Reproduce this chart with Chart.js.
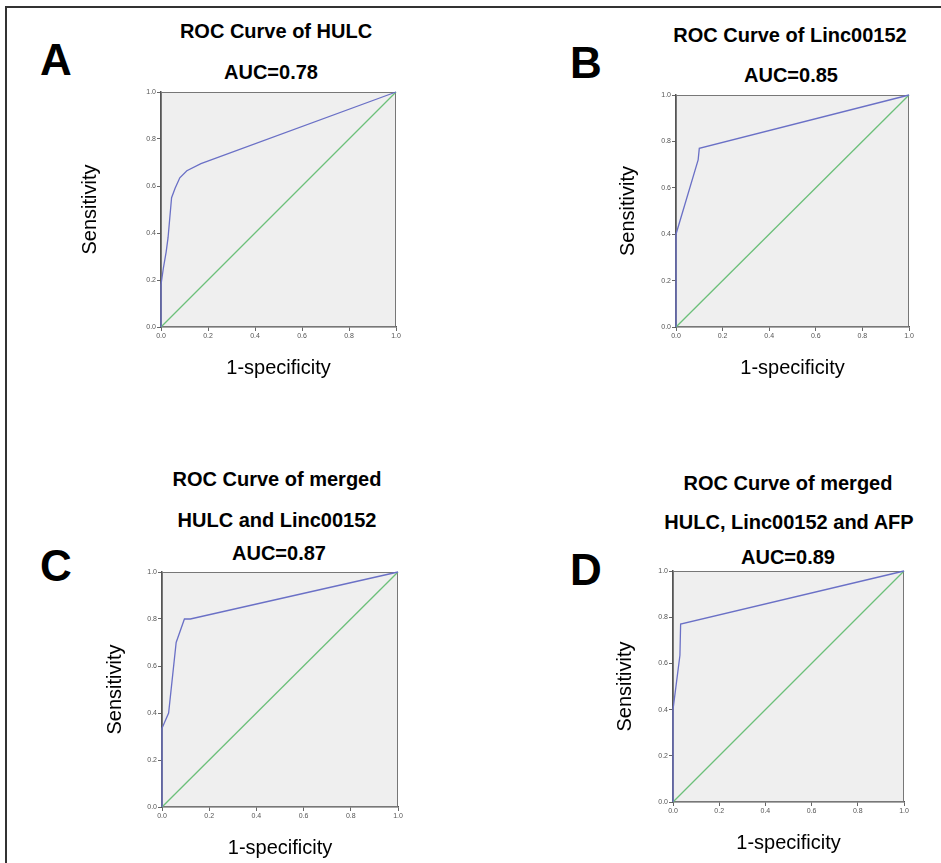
<!DOCTYPE html>
<html><head><meta charset="utf-8">
<script src="https://cdn.jsdelivr.net/npm/chart.js@4.4.1/dist/chart.umd.min.js"></script>
<style>
html,body{margin:0;padding:0;background:#fff;width:941px;height:863px;overflow:hidden;position:relative;font-family:"Liberation Sans",Arial,sans-serif;}
#frame{position:absolute;left:5px;top:6px;width:1000px;height:1000px;border-left:2px solid #333;border-top:2px solid #333;}
.t{position:absolute;transform:translate(-50%,-50%);white-space:nowrap;font-weight:bold;font-size:20px;line-height:1;color:#000;}
.L{position:absolute;transform:translate(-50%,-50%);font-weight:bold;font-size:44px;line-height:1;color:#000;}
canvas{position:absolute;}
</style></head><body>
<div id="frame"></div>
<script>
// ---- data ----
const tickLabels = ['0.0','0.2','0.4','0.6','0.8','1.0'];
const panelLetters = ['A','B','C','D'];
const titleA = ['ROC Curve of HULC','AUC=0.78'];
const titleB = ['ROC Curve of Linc00152','AUC=0.85'];
const titleC = ['ROC Curve of merged','HULC and Linc00152','AUC=0.87'];
const titleD = ['ROC Curve of merged','HULC, Linc00152 and AFP','AUC=0.89'];
const xAxisTitle = '1-specificity';
const yAxisTitle = 'Sensitivity';
const refX = [0, 1];
const refY = [0, 1];
const hulcX = [0, 0, 0.01, 0.022, 0.03, 0.045, 0.06, 0.08, 0.11, 0.17, 1];
const hulcY = [0, 0.18, 0.25, 0.32, 0.38, 0.55, 0.59, 0.635, 0.665, 0.695, 1];
const lincX = [0, 0, 0.095, 0.1, 1];
const lincY = [0, 0.40, 0.72, 0.77, 1];
const mergedX = [0, 0, 0.028, 0.06, 0.095, 0.12, 1];
const mergedY = [0, 0.335, 0.40, 0.70, 0.80, 0.80, 1];
const merged3X = [0, 0, 0.03, 0.033, 1];
const merged3Y = [0, 0.40, 0.635, 0.77, 1];

// ---- layout (pixels) ----
const panels = [
  {letter:panelLetters[0], lp:[56,60], title:titleA, tx:[276,271], ty:[31,72], x:hulcX, y:hulcY,
   plot:{l:161,r:396,t:92,b:327}, yTitleX:90, xTitleY:368},
  {letter:panelLetters[1], lp:[586,63], title:titleB, tx:[790,791], ty:[35,75], x:lincX, y:lincY,
   plot:{l:676,r:909,t:95,b:327}, yTitleX:628, xTitleY:368},
  {letter:panelLetters[2], lp:[56,566], title:titleC, tx:[277,277,279], ty:[479,520,553], x:mergedX, y:mergedY,
   plot:{l:162,r:398,t:572,b:807}, yTitleX:115, xTitleY:848},
  {letter:panelLetters[3], lp:[586,570], title:titleD, tx:[788,789,788], ty:[483,522,557], x:merged3X, y:merged3Y,
   plot:{l:673,r:904,t:571,b:802}, yTitleX:625, xTitleY:843}
];

const AXT = 20, LH = AXT*1.2;
const bgPlugin = {
  id:'plotbg',
  beforeDraw(chart){
    const a = chart.chartArea, c = chart.ctx;
    c.save(); c.fillStyle = '#efefef'; c.fillRect(a.left, a.top, a.right-a.left, a.bottom-a.top); c.restore();
  },
  beforeDatasetsDraw(chart){
    const a = chart.chartArea, c = chart.ctx;
    c.save(); c.strokeStyle = '#777'; c.lineWidth = 1;
    c.strokeRect(a.left+0.5, a.top+0.5, a.right-a.left-1, a.bottom-a.top-1); c.restore();
  }
};

function addText(cls, txt, x, y){
  const d = document.createElement('div'); d.className = cls; d.textContent = txt;
  d.style.left = x+'px'; d.style.top = y+'px'; document.body.appendChild(d);
}

panels.forEach(p => {
  addText('L', p.letter, p.lp[0], p.lp[1]);
  p.title.forEach((s,i) => addText('t', s, p.tx[i], p.ty[i]));
  const L = p.yTitleX - LH/2, T = p.plot.t - 10, B = p.xTitleY + LH/2;
  const W = p.plot.r + 14 - L, H = B - T;
  const cv = document.createElement('canvas');
  cv.width = W; cv.height = H; cv.style.left = L+'px'; cv.style.top = T+'px';
  cv.style.width = W+'px'; cv.style.height = H+'px';
  document.body.appendChild(cv);
  const yW = p.plot.l - L, xH = B - p.plot.b;
  const tickFont = {family:'"Liberation Sans", Arial, sans-serif', size:7};
  new Chart(cv, {
    type:'scatter',
    data:{datasets:[
      {data:p.x.map((v,i)=>({x:v,y:p.y[i]})), showLine:true, borderColor:'#6a70c6', borderWidth:1.3,
       pointRadius:0, tension:0, clip:3, order:1},
      {data:refX.map((v,i)=>({x:v,y:refY[i]})), showLine:true, borderColor:'#6cc07a', borderWidth:1.3,
       pointRadius:0, clip:3, order:2}
    ]},
    options:{
      responsive:false, animation:false, devicePixelRatio:1,
      layout:{padding:{top:10,right:14,left:0,bottom:0}},
      plugins:{legend:{display:false}, tooltip:{enabled:false}},
      scales:{
        x:{type:'linear', min:0, max:1,
           ticks:{stepSize:0.2, font:tickFont, color:'#555', padding:1, maxRotation:0,
                  callback:v=>tickLabels[Math.round(v/0.2)]},
           grid:{display:true, drawOnChartArea:false, drawTicks:true, tickLength:4, color:'#666'},
           border:{display:true, color:'#555', width:1.5},
           title:{display:true, text:xAxisTitle, font:{family:'"Liberation Sans", Arial, sans-serif', size:AXT}, color:'#000', padding:0},
           afterFit(s){ s.height = xH; }},
        y:{type:'linear', min:0, max:1,
           ticks:{stepSize:0.2, font:tickFont, color:'#555', padding:1,
                  callback:v=>tickLabels[Math.round(v/0.2)]},
           grid:{display:true, drawOnChartArea:false, drawTicks:true, tickLength:4, color:'#666'},
           border:{display:true, color:'#555', width:1.5},
           title:{display:true, text:yAxisTitle, font:{family:'"Liberation Sans", Arial, sans-serif', size:AXT}, color:'#000', padding:0},
           afterFit(s){ s.width = yW; }}
      }
    },
    plugins:[bgPlugin]
  });
});
</script>
</body></html>
